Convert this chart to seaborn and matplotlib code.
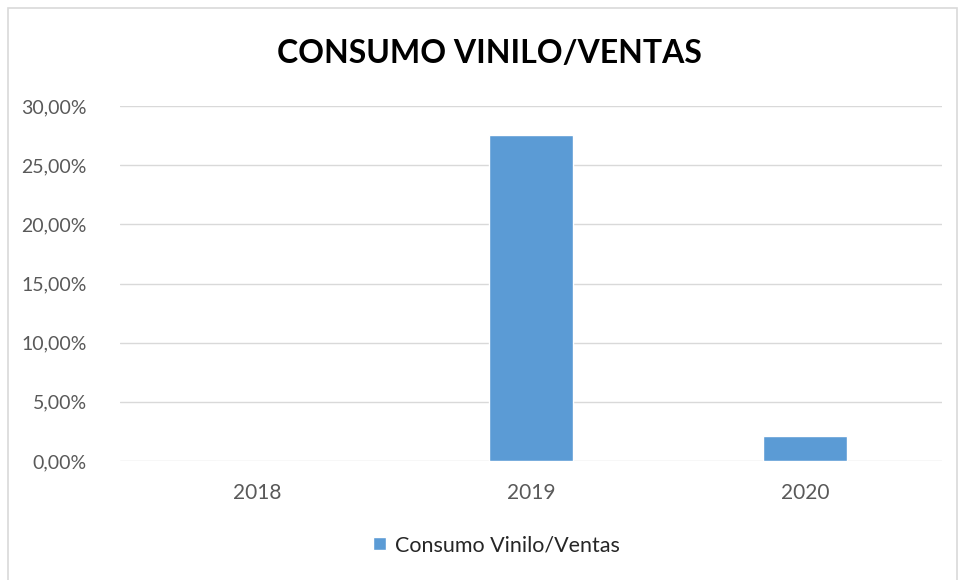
import pandas as pd
import numpy as np
import seaborn as sns
import matplotlib.pyplot as plt
from matplotlib.patches import Rectangle
from matplotlib.ticker import FuncFormatter

# datos
anios = ['2018', '2019', '2020']
consumo = [0.0, 27.55, 2.12]
serie = 'Consumo Vinilo/Ventas'

df = pd.DataFrame({'anio': anios, 'valor': consumo, 'serie': serie})

sns.set_style('white')
plt.rcParams['font.family'] = ['Lato', 'DejaVu Sans']

fig = plt.figure(figsize=(9.6, 5.8), dpi=100)
ax = fig.add_axes([0.125, 0.2052, 0.856, 0.612])

sns.barplot(data=df, x='anio', y='valor', hue='serie', palette=['#5B9BD5'],
            saturation=1, width=0.307, ax=ax, legend=True)

ax.set_ylim(0, 30)
ax.set_xlim(-0.5, 2.5)
ax.set_yticks(np.arange(0, 31, 5))
ax.yaxis.set_major_formatter(FuncFormatter(lambda v, p: f'{v:.2f}%'.replace('.', ',')))
ax.grid(axis='y', color='#D9D9D9', linewidth=1)
ax.set_axisbelow(True)
for s in ax.spines.values():
    s.set_visible(False)
ax.tick_params(axis='y', length=0, labelsize=14, colors='#595959', pad=24)
ax.tick_params(axis='x', length=0, labelsize=15, colors='#595959', pad=16)
ax.set_xlabel('')
ax.set_ylabel('')

fig.text(0.51, 0.908, 'CONSUMO VINILO/VENTAS', ha='center', va='center',
         fontsize=23, fontweight='bold', color='black')

ax.legend(loc='center', frameon=False, fontsize=15.5, handlelength=0.6,
          handleheight=0.6, handletextpad=0.4, labelcolor='#262626')
ax.get_legend().set_bbox_to_anchor((0.517, 0.06), transform=fig.transFigure)

# borde del grafico
fig.patches.append(Rectangle((8 / 960, -0.01), 949 / 960, 1 - 8 / 580 + 0.01,
                             transform=fig.transFigure, fill=False,
                             edgecolor='#D9D9D9', linewidth=1.2))

fig.savefig('out.png', dpi=100)
